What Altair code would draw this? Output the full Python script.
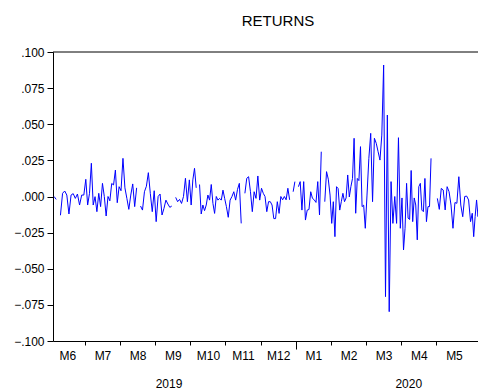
import altair as alt
import pandas as pd

# ---- data (daily returns, grouped by month) ----
jun19 = [0.000, -0.002, None, -0.013, 0.0022, 0.0038, 0.001, -0.0121, 0.001, 0.002,
         -0.0013, 0.0017, -0.0059, 0.001, 0.001]
jul19 = [0.0119, -0.0059, 0.0022, 0.023, -0.0059, -0.0001, -0.0105, 0.0022, -0.007, 0.0091,
         0.000, -0.0135, 0.000, -0.003, 0.009, 0.008, 0.0183, -0.0043, 0.0068]
aug19 = [0.004, 0.0264, 0.006, -0.0013, -0.0089, 0.001, 0.0087, -0.007, 0.006, None,
         -0.0066, -0.0094, 0.0033, 0.0071, 0.0165, 0.0022, -0.0105, 0.004]
sep19 = [-0.0174, 0.000, 0.0017, -0.0128, -0.0082, -0.0025, -0.0052, -0.0075, -0.0066, None,
         -0.0006, -0.0036, -0.002, -0.0048, 0.000, 0.0126, -0.0036, 0.0115]
oct19 = [-0.0059, 0.0115, 0.0195, 0.006, None, 0.0083, -0.0121, -0.0059, -0.0098, -0.0059,
         0.001, -0.0025, 0.0083, -0.0048, -0.0117, 0.000, -0.0025, -0.0013, -0.0025, 0.0044, -0.0013]
nov19 = [-0.007, -0.0144, -0.0025, 0.000, 0.0033, -0.0025, 0.0049, 0.0091, -0.0186, None,
         0.0022, 0.0126, 0.0137, 0.0033, -0.0105, 0.0033, -0.0013, 0.0142, -0.0025]
dec19 = [0.0057, 0.0022, 0.000, -0.0105, -0.0036, -0.0036, -0.0059, -0.0153, -0.0153, -0.0036,
         -0.0117, 0.000, -0.0023, 0.000, -0.0023, 0.0057, -0.0023, None, 0.0033, 0.0103]
jan20 = [None, 0.0068, 0.0103, -0.0094, 0.0103, -0.0163, -0.0094, -0.009, 0.0033, -0.0013,
         -0.0023, -0.0041, 0.0103, -0.0128, 0.031, None, -0.0036, 0.0172, 0.012, 0.001]
feb20 = [-0.0186, -0.0036, -0.0278, 0.0068, 0.0055, -0.0094, -0.0036, 0.0022, -0.0036, -0.001,
         0.0149, -0.0003, 0.0068, 0.0125, 0.0403, -0.0116, 0.0125, 0.011, 0.0345, -0.007, -0.006, -0.022]
mar20 = [0.001, 0.0264, 0.0437, -0.0036, 0.0403, 0.0368, 0.031, 0.0252, 0.0425, 0.091,
         -0.0693, 0.0564, -0.0797, 0.0103, -0.0186, 0.000, -0.0186, 0.0407, -0.022]
apr20 = [-0.001, -0.037, -0.022, 0.0091, -0.015, -0.0159, 0.018, -0.0174, -0.001, -0.0059,
         -0.030, 0.0068, 0.0091, -0.0094, -0.0105, 0.0125, -0.0174, -0.007, -0.007, 0.0264,
         None, -0.0167, None]
may20 = [-0.0013, -0.0089, 0.0056, 0.0045, -0.0093, 0.0068, 0.0033, -0.0059, -0.022, -0.0042,
         -0.0047, 0.0137, -0.0059, -0.014, 0.000, 0.0003, -0.0024, -0.0174]
jun20 = [-0.0116, -0.0278, -0.0139, -0.0024, -0.0139, -0.0022, -0.0024, 0.0068, 0.0264, 0.0495]

month_labels = ["M6", "M7", "M8", "M9", "M10", "M11", "M12", "M1", "M2", "M3", "M4", "M5", "M6"]
year_labels = ["2019", "2020"]
year_label_pos = [3.38, 10.2]      # in month units
y_ticks = [-0.1, -0.075, -0.05, -0.025, 0.0, 0.025, 0.05, 0.075, 0.1]

t_first = 0.093   # sample starts a few days into June 2019
t_data_end = 12.41  # last visible observation (early June 2020)

series = [jun19, jul19, aug19, sep19, oct19, nov19, dec19, jan20, feb20, mar20, apr20, may20, jun20]
rows = []
for m, vals in enumerate(series):
    lo = max(m, t_first)
    hi = min(m + 1, t_data_end)
    n = len(vals)
    for k, v in enumerate(vals):
        rows.append({"t": lo + (k + 0.5) / n * (hi - lo), "r": v})
df = pd.DataFrame(rows)

W, H = 425, 289
PX_PER_MONTH = 35.15
t_view_end = t_first + W / PX_PER_MONTH
half_month = PX_PER_MONTH / 2
FONT = "Liberation Sans"

xscale = alt.Scale(domain=[t_first, t_view_end], nice=False, zero=False)
yscale = alt.Scale(domain=[-0.1, 0.1], nice=False, zero=False)

labels_js = "[" + ",".join("'%s'" % s for s in month_labels) + "]"
month_axis = alt.Axis(
    orient="bottom",
    values=[m + 0.5 for m in range(len(month_labels))],
    labelExpr=labels_js + "[floor(datum.value)]",
    tickOffset=-half_month,
    labelOffset=half_month,
    tickSize={"condition": {"test": "datum.value == 7.5", "value": 8}, "value": 4},
    labelPadding={"condition": {"test": "datum.value == 7.5", "value": 1}, "value": 5},
    tickOpacity={"condition": {"test": "datum.value < 1", "value": 0}, "value": 1},
    tickColor="black", domainColor="black", labelColor="black",
    labelFont=FONT, labelFontSize=12, title=None, grid=False,
    labelOverlap=False, labelFlush=False,
)
year_axis = alt.Axis(
    orient="bottom",
    values=year_label_pos,
    labelExpr="datum.value < 7 ? '%s' : '%s'" % (year_labels[0], year_labels[1]),
    ticks=False, tickSize=0, domain=False, labelPadding=37,
    labelColor="black", labelFont=FONT, labelFontSize=12, title=None, grid=False,
    labelOverlap=False,
)
y_axis = alt.Axis(
    values=y_ticks,
    labelExpr="replace(format(datum.value, '.3f'), '0.', '.')",
    tickSize=6, labelPadding=3,
    tickColor="black", domainColor="black", labelColor="black",
    labelFont=FONT, labelFontSize=12, title=None, grid=False,
    labelOverlap=False,
)

line = alt.Chart(df).mark_line(
    color="#0000ff", strokeWidth=1, clip=True, invalid="break-paths-show-domains"
).encode(
    x=alt.X("t:Q", scale=xscale, axis=month_axis),
    y=alt.Y("r:Q", scale=yscale, axis=y_axis),
)

years = alt.Chart(df).mark_point(opacity=0, clip=True).encode(
    x=alt.X("t:Q", scale=xscale, axis=year_axis),
)

# top edge of the plot frame, at the top of the y range
frame_top = alt.Chart(pd.DataFrame({"r": [y_ticks[-1]]})).mark_rule(
    color="black", strokeWidth=1
).encode(
    y=alt.Y("r:Q", scale=yscale, axis=y_axis),
)

chart = alt.layer(line, years, frame_top).resolve_axis(x="independent").properties(
    width=W,
    height=H,
    title=alt.Title("RETURNS", font=FONT, fontSize=15, fontWeight="normal",
                    color="black", anchor="middle", dx=12.5, offset=17),
    padding={"left": 45, "top": 44, "right": 0, "bottom": 48},
    autosize=alt.AutoSizeParams(type="none"),
    background="white",
).configure_view(stroke=None)

chart.save("out.html", embed_options={"renderer": "svg", "actions": False})
